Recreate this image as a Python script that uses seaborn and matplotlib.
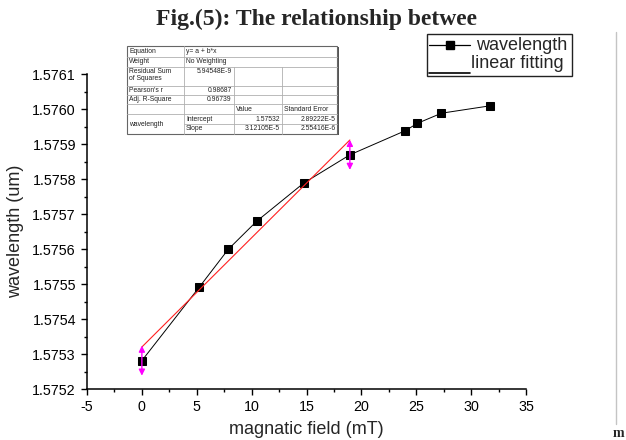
import numpy as np
import pandas as pd
import matplotlib
matplotlib.use("Agg")
import matplotlib.pyplot as plt
from matplotlib.patches import Rectangle
from matplotlib.lines import Line2D
import seaborn as sns

# ---- data ----
field = [0.0, 5.23, 7.87, 10.45, 14.73, 18.95, 24.0, 25.1, 27.3, 31.7]
wavelength = [1.575281, 1.575491, 1.575599, 1.575679, 1.575788,
              1.575869, 1.575938, 1.575959, 1.575988, 1.576009]
fit_intercept = 1.57532
fit_slope = 3.12105e-5
fit_range = [0.0, 18.95]
arrow_fields = [0.0, 18.95]
arrow_centers = [1.575281, 1.575869]
arrow_half = 0.000043
x_ticks = [-5, 0, 5, 10, 15, 20, 25, 30, 35]
y_ticks = [1.5752, 1.5753, 1.5754, 1.5755, 1.5756, 1.5757, 1.5758, 1.5759, 1.5760, 1.5761]

table_rows = [
    ["Equation", "y= a + b*x"],
    ["Weight", "No Weighting"],
    ["Residual Sum\nof Squares", "5.94548E-9"],
    ["Pearson's r", "0.98687"],
    ["Adj. R-Square", "0.96739"],
]
table_header = ["Value", "Standard Error"]
table_params = [["Intercept", "1.57532", "2.89222E-5"],
                ["Slope", "3.12105E-5", "2.55416E-6"]]
table_series = "wavelength"

sns.set_style("ticks")
plt.rcParams["font.family"] = ["Liberation Sans", "DejaVu Sans"]

W, H = 626, 440
fig = plt.figure(figsize=(W / 100, H / 100), dpi=100)
L, R, T, B = 87, 526, 74, 389
ax = fig.add_axes([L / W, 1 - B / H, (R - L) / W, (B - T) / H])

df = pd.DataFrame({"field": field, "wavelength": wavelength})
sns.lineplot(data=df, x="field", y="wavelength", ax=ax, color="black",
             linewidth=0.7, marker="s", markersize=5.5, markeredgecolor="black",
             markerfacecolor="black", sort=False, errorbar=None, legend=False)

fit_x = np.array(fit_range)
fit_df = pd.DataFrame({"x": fit_x, "y": fit_intercept + fit_slope * fit_x})
sns.lineplot(data=fit_df, x="x", y="y", ax=ax, color="#ff2020", linewidth=0.8,
             sort=False, errorbar=None, legend=False)

for xf, yc in zip(arrow_fields, arrow_centers):
    ax.annotate("", xy=(xf, yc + arrow_half), xytext=(xf, yc - arrow_half),
                arrowprops=dict(arrowstyle="<|-|>", color="#ff00ff", lw=1.0,
                                mutation_scale=9, shrinkA=0, shrinkB=0))

ax.set_xlim(-5, 35)
ax.set_ylim(1.5752, 1.5761)
ax.set_xticks(x_ticks)
ax.set_xticklabels([str(t) for t in x_ticks])
ax.set_xticks(np.arange(-2.5, 35, 5), minor=True)
ax.set_yticks(y_ticks)
ax.set_yticklabels([f"{t:.4f}" for t in y_ticks])
ax.set_yticks(np.arange(1.57525, 1.5761, 0.0001), minor=True)
for s in ["top", "right"]:
    ax.spines[s].set_visible(False)
for s in ["left", "bottom"]:
    ax.spines[s].set_linewidth(1.1)
    ax.spines[s].set_color("black")
ax.tick_params(which="major", length=4.5, width=1, color="black", labelsize=10.3,
               labelcolor="black", direction="out")
ax.tick_params(which="minor", length=2.5, width=1, color="black", direction="out")
ax.set_xlabel("magnatic field (mT)", fontsize=13, labelpad=5)
ax.set_ylabel("wavelength (um)", fontsize=13, labelpad=6)
ax.grid(False)

# ---- overlay in pixel coordinates ----
ov = fig.add_axes([0, 0, 1, 1], zorder=5)
ov.set_xlim(0, W)
ov.set_ylim(H, 0)
ov.axis("off")
ov.patch.set_alpha(0)

# title and stray text
fig.text(316.5 / W, 1 - 25 / H, "Fig.(5): The relationship betwee",
         family=["Liberation Serif", "DejaVu Serif"], weight="bold",
         fontsize=17, ha="center", va="baseline")
fig.text(624.5 / W, 1 - 437 / H, "m", family=["Liberation Serif", "DejaVu Serif"],
         weight="bold", fontsize=10, ha="right", va="baseline")
ov.plot([615.7, 615.7], [32, 424], color="#c4c4c4", lw=1)

# statistics table
c = [127.3, 184, 233.5, 281.7, 337.3]
r = [46, 56.7, 66.7, 85.7, 95, 104.3, 114.2, 124, 133.7]
ov.add_patch(Rectangle((c[0] + 1.5, r[0] + 1.5), c[4] - c[0], r[8] - r[0],
                       facecolor="#555555", edgecolor="none", zorder=1))
ov.add_patch(Rectangle((c[0], r[0]), c[4] - c[0], r[8] - r[0],
                       facecolor="white", edgecolor="#666666", lw=0.8, zorder=2))
gl = dict(color="#b0b0b0", lw=0.6, zorder=3)
for yy in r[1:7]:
    ov.plot([c[0], c[4]], [yy, yy], **gl)
ov.plot([c[1], c[4]], [r[7], r[7]], **gl)
ov.plot([c[1], c[1]], [r[0], r[8]], **gl)
for xx in c[2:4]:
    ov.plot([xx, xx], [r[2], r[8]], **gl)

tf = dict(fontsize=4.9, color="#222222", zorder=4)
for i, (lab, val) in enumerate(table_rows):
    if "\n" in lab:
        ov.text(c[0] + 2, r[i] + 1, lab, va="top", ha="left", linespacing=1.0, **tf)
        ov.text(c[2] - 2, r[i] + 1, val, va="top", ha="right", **tf)
    else:
        ym = (r[i] + r[i + 1]) / 2
        ov.text(c[0] + 2, ym, lab, va="center", ha="left", **tf)
        if i < 2:
            ov.text(c[1] + 2, ym, val, va="center", ha="left", **tf)
        else:
            ov.text(c[2] - 2, ym, val, va="center", ha="right", **tf)
ym = (r[5] + r[6]) / 2
ov.text(c[2] + 2, ym, table_header[0], va="center", ha="left", **tf)
ov.text(c[3] + 2, ym, table_header[1], va="center", ha="left", **tf)
ov.text(c[0] + 2, r[7], table_series, va="center", ha="left", **tf)
for j, (name, v, e) in enumerate(table_params):
    ym = (r[6 + j] + r[7 + j]) / 2
    ov.text(c[1] + 2, ym, name, va="center", ha="left", **tf)
    ov.text(c[3] - 2, ym, v, va="center", ha="right", **tf)
    ov.text(c[4] - 2, ym, e, va="center", ha="right", **tf)

# legend
ov.add_patch(Rectangle((427.3, 34), 144.4, 42, facecolor="white",
                       edgecolor="#222222", lw=1.0, zorder=2))
ov.add_line(Line2D([429, 470], [45, 45], color="black", lw=0.9, zorder=3))
ov.add_line(Line2D([449.5], [45], color="black", marker="s", markersize=5.5,
                   linestyle="none", zorder=4))
ov.text(476, 45, "wavelength", fontsize=13, va="center", ha="left", zorder=4)
ov.plot([429, 470], [72.7, 72.7], color="black", lw=1.2, zorder=3)
ov.text(470.7, 64, "linear fitting", fontsize=13, va="center", ha="left", zorder=4)

fig.savefig("out.png", dpi=100, facecolor="white")
